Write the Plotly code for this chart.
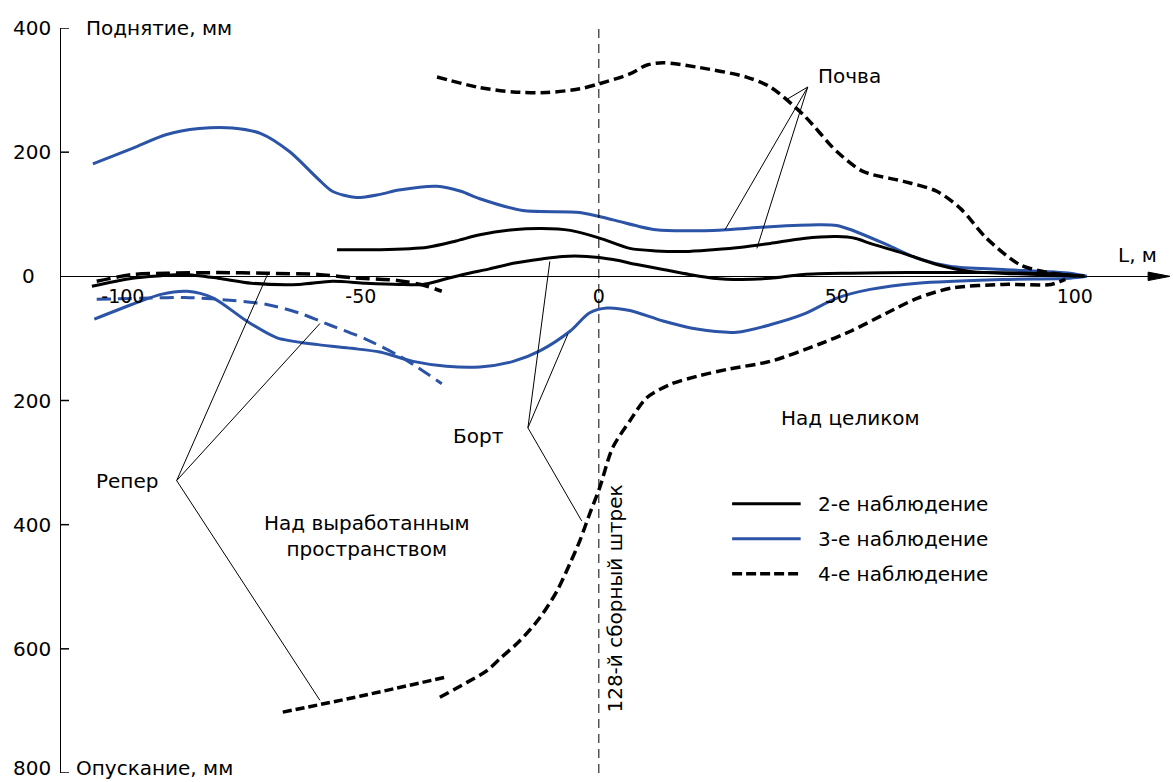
import plotly.graph_objects as go

# --- measured profiles (x in m along the line, y in mm: + rise, - subsidence) ---
# 2-е наблюдение, почва
obs2_soil_x = [-55, -46, -36, -30, -25, -18, -12, -6, 0, 6.5, 12, 18, 24, 30, 36, 43, 50, 54, 57, 64, 71, 78, 88, 102]
obs2_soil_y = [43, 43, 47, 57, 67, 75, 77, 74, 62, 45, 41, 40, 43, 47, 53, 61, 64, 61, 53, 37, 19, 8, 4, 0]

# 2-е наблюдение, борт
obs2_side_x = [-106.5, -98, -92, -87, -80, -73, -63, -56, -49, -42, -37, -33, -28.5, -23, -18, -12, -7.6, -2.5, 3, 8, 13.5, 19, 24, 30, 36, 43, 53, 65, 80, 95, 102]
obs2_side_y = [-16, -3, 1, 3, -3, -11, -13, -8, -11, -13, -13, -6, 3, 12, 21, 28, 32, 32, 27, 19, 11, 3, -3, -5, -3, 3, 5, 6, 6, 4, 0]

# 3-е наблюдение, почва
obs3_soil_x = [-106.3, -98, -91, -84, -77, -71, -65, -59, -56, -51, -46, -42, -34, -29, -25, -16, -4, 3, 12, 24, 36, 46, 50, 53, 60.5, 67, 74, 85, 99, 102.5]
obs3_soil_y = [181, 206, 228, 238, 239, 230, 201, 157, 137, 127, 132, 139, 145, 137, 125, 106, 103, 91, 75, 74, 80, 83, 82, 75, 51, 29, 16, 11, 5, 0]

# 3-е наблюдение, борт
obs3_side_x = [-106, -98, -92, -86.5, -81, -74, -67.6, -59, -52, -46, -39, -32, -25, -18, -12.4, -6, -2, 1.7, 6.5, 13.5, 20.6, 29, 36, 43, 50, 57, 67, 85, 99, 102.5]
obs3_side_y = [-69, -45, -29, -24, -35, -72, -99, -110, -116, -122, -137, -145, -146, -137, -120, -88, -59, -51, -55, -72, -85, -90, -78, -61, -35, -21, -11, -5, -3, 0]

# 3-е наблюдение, репер
obs3_mark_x = [-105.5, -94, -87, -80, -70, -63, -56, -49, -42, -38, -33]
obs3_mark_y = [-37, -35, -34, -37, -45, -59, -80, -101, -128, -147, -173]

# 4-е наблюдение, почва
obs4_soil_x = [-34, -25, -18, -11, -4, 0, 6.5, 10, 13.5, 20.6, 31, 36, 43, 50, 55.5, 64, 71, 76, 81.5, 88.4, 95, 102]
obs4_soil_y = [321, 304, 297, 296, 302, 310, 326, 340, 344, 337, 321, 305, 260, 201, 169, 153, 137, 109, 61, 19, 5, 0]

# 4-е наблюдение, борт
obs4_side_x = [-33.4, -27.7, -23.5, -20.8, -16.6, -12.4, -8.8, -6.1, -4.0, -1.9, 0.2, 2.9, 6.5, 10, 15, 20.6, 27.5, 36, 46.4, 53, 60.5, 67, 74, 85, 95, 98]
obs4_side_y = [-678, -654, -635, -616, -587, -550, -507, -463, -426, -382, -340, -276, -233, -196, -174, -161, -149, -137, -109, -88, -59, -35, -19, -13, -13, -5]

# 4-е наблюдение, репер (верхний и нижний участки)
obs4_mark_x = [-105.5, -98, -91, -80, -70, -59, -52, -42, -37, -33]
obs4_mark_y = [-8, 3, 5, 6, 5, 3, -2, -7, -14, -24]
obs4_mark_low_x = [-66.4, -50, -32.4]
obs4_mark_low_y = [-702, -676, -646]

# axis ticks
x_ticks = [-100, -50, 0, 50, 100]
x_tick_text = ["-100", "-50", "0", "50", "100"]
y_ticks = [400, 200, 0, -200, -400, -600, -800]
y_tick_text = ["400", "200", "0", "200", "400", "600", "800"]

legend_labels = ["2-е наблюдение", "3-е наблюдение", "4-е наблюдение"]

FONT = "DejaVu Sans"
BLUE = "#2b53a6"
BLACK = "#000000"

W, H = 1173, 782
ML, MR, MT, MB = 61, 3, 28, 9
PW, PH = W - ML - MR, H - MT - MB
X_MIN, X_MAX = -113, 120

fig = go.Figure()


def add_line(x, y, color, width, dash="solid"):
    fig.add_trace(go.Scatter(
        x=x, y=y, mode="lines", line=dict(color=color, width=width, dash=dash, shape="spline", smoothing=0.8),
        hoverinfo="skip", showlegend=False,
    ))


DASH4 = "10px,5px"
add_line(obs3_soil_x, obs3_soil_y, BLUE, 3)
add_line(obs3_side_x, obs3_side_y, BLUE, 3)
add_line(obs3_mark_x, obs3_mark_y, BLUE, 3, "14px,7px")
add_line(obs2_soil_x, obs2_soil_y, BLACK, 3)
add_line(obs2_side_x, obs2_side_y, BLACK, 3)
add_line(obs4_soil_x, obs4_soil_y, BLACK, 3.5, DASH4)
add_line(obs4_side_x, obs4_side_y, BLACK, 3.5, DASH4)
add_line(obs4_mark_x, obs4_mark_y, BLACK, 3.5, "14px,6px")
add_line(obs4_mark_low_x, obs4_mark_low_y, BLACK, 3.5, "9px,4px")


def px_x(px):
    return (px - ML) / PW


def px_y(py):
    return 1 - (py - MT) / PH


shapes = []

# 128-й сборный штрек (x = 0)
shapes.append(dict(type="line", xref="x", yref="y", x0=0, x1=0, y0=-800, y1=400,
                   line=dict(color=BLACK, width=1, dash="9px,6px")))

# arrow head of the L axis
shapes.append(dict(type="path", xref="x", yref="y",
                   path="M 115.4 6.8 L 120 0 L 115.4 -6.8 Z",
                   fillcolor=BLACK, line=dict(color=BLACK, width=1)))

# short tick marks on the vertical axis
tick_len = 8 * (X_MAX - X_MIN) / PW
for v in y_ticks:
    if v == 0:
        continue
    shapes.append(dict(type="line", xref="x", yref="y", x0=X_MIN, x1=X_MIN + tick_len, y0=v, y1=v,
                       line=dict(color=BLACK, width=1.5)))

# callout leader lines: apex -> points on the curves
callouts = {
    "Почва": ((43.9, 305), [(39.7, 286), (26.5, 75), (33.2, 45)]),
    "Репер": ((-88.7, -329), [(-69.5, 5), (-58.6, -76), (-58.6, -683)]),
    "Борт": ((-14.9, -244), [(-10.3, 24), (-6.5, -93), (-3.6, -394)]),
}
for _, (apex, ends) in callouts.items():
    for ex, ey in ends:
        shapes.append(dict(type="line", xref="x", yref="y", x0=apex[0], y0=apex[1], x1=ex, y1=ey,
                           line=dict(color=BLACK, width=1)))

# legend samples
legend_y = [-366.5, -422.7, -479]
legend_styles = [(BLACK, 3, "solid"), (BLUE, 3, "solid"), (BLACK, 3.5, "10px,4px")]
for ly, (c, w, d) in zip(legend_y, legend_styles):
    shapes.append(dict(type="line", xref="x", yref="y", x0=28.0, x1=42.4, y0=ly, y1=ly,
                       line=dict(color=c, width=w, dash=d)))

annotations = []


def label(text, x, y, size=20, xanchor="left", yanchor="middle", xref="x", yref="y", angle=0, yshift=0):
    annotations.append(dict(text=text, x=x, y=y, xref=xref, yref=yref, showarrow=False,
                            xanchor=xanchor, yanchor=yanchor, textangle=angle, yshift=yshift,
                            borderpad=0, font=dict(family=FONT, size=size, color=BLACK)))


for t, ly in zip(legend_labels, legend_y):
    label(t, 45.8, ly)

label("Почва", 45.8, 322)
label("Репер", -105.9, -329)
label("Борт", -30.9, -257)
label("Над целиком", 38.0, -228)
label("Над выработанным<br>пространством", -70.6, -419)
label("128-й сборный штрек", 3.4, -519, xanchor="center", angle=-90)
label("L, м", px_x(1117), px_y(255), xref="paper", yref="paper")
label("Поднятие, мм", px_x(85), px_y(28), xref="paper", yref="paper")
label("Опускание, мм", px_x(75), px_y(768), xref="paper", yref="paper")

# y tick labels: absolute values on both sides of zero
for v, t in zip(y_ticks, y_tick_text):
    right_px = 36 if v == 0 else 52
    label(t, px_x(right_px), v, xanchor="right", xref="paper", yshift=5 if v == -800 else 0)

fig.update_layout(
    width=W, height=H,
    margin=dict(l=ML, r=MR, t=MT, b=MB),
    paper_bgcolor="white", plot_bgcolor="white",
    shapes=shapes, annotations=annotations,
    showlegend=False,
    font=dict(family=FONT, size=20, color=BLACK),
    xaxis=dict(
        range=[X_MIN, X_MAX], anchor="free", position=2 / 3,
        showgrid=False, zeroline=False, showline=True, linecolor=BLACK, linewidth=1,
        tickvals=x_ticks, ticktext=x_tick_text, ticks="",
        tickfont=dict(family=FONT, size=19, color=BLACK), ticklabelstandoff=3,
    ),
    yaxis=dict(
        range=[-800, 400], showgrid=False, zeroline=False, showline=True, linecolor=BLACK, linewidth=1,
        ticks="", showticklabels=False,
    ),
)

fig.write_html("out.html")
